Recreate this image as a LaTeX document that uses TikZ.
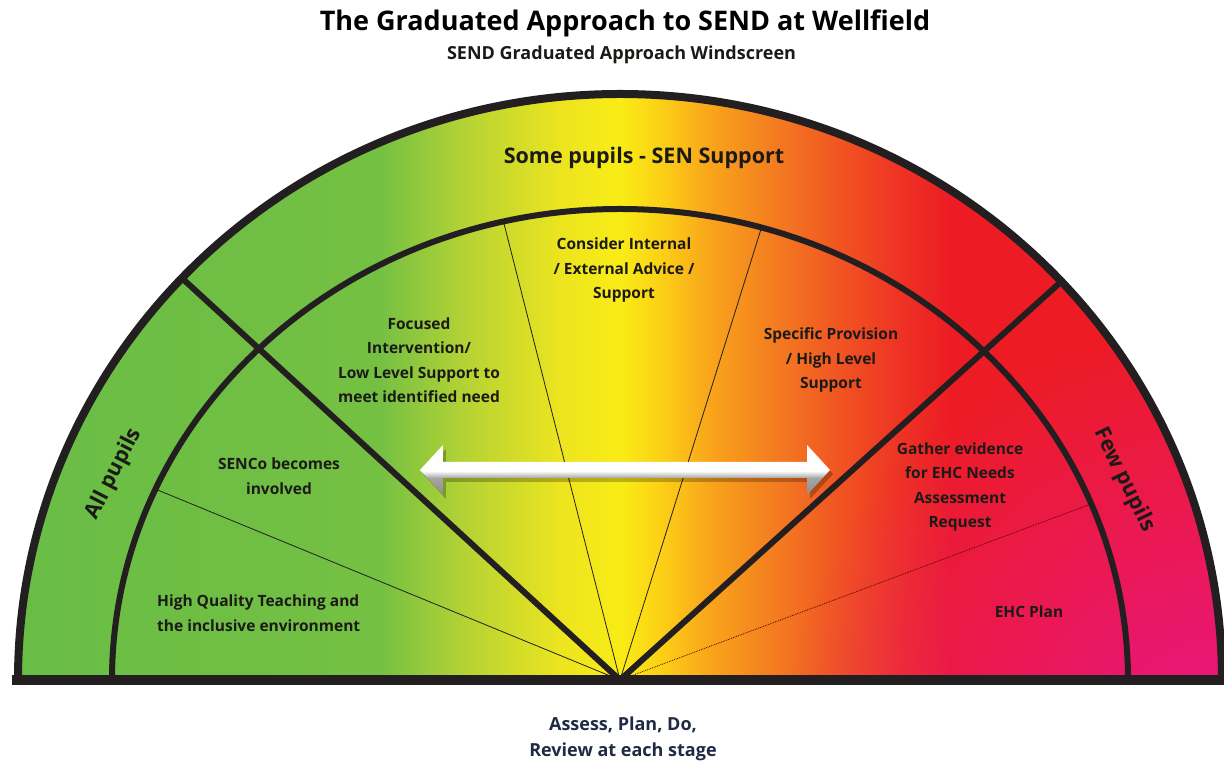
\documentclass[tikz,border=0pt]{standalone}
\usepackage{fontspec}
\setmainfont{Open Sans}
\usetikzlibrary{positioning,fadings}

\definecolor{rim}{HTML}{231F20}
\definecolor{labeltext}{HTML}{1C1A17}
\definecolor{navy}{HTML}{1F2A44}
\definecolor{wgreen}{HTML}{69BD45}
\definecolor{wgreentwo}{HTML}{74C043}
\definecolor{wlime}{HTML}{B8D433}
\definecolor{wyellowtwo}{HTML}{ECE41F}
\definecolor{wyellow}{HTML}{F9EC16}
\definecolor{wgold}{HTML}{FCD016}
\definecolor{worange}{HTML}{F9A51B}
\definecolor{worangetwo}{HTML}{F47F20}
\definecolor{wredtwo}{HTML}{F15A22}
\definecolor{wredthree}{HTML}{EE3324}
\definecolor{wred}{HTML}{ED1C24}
\definecolor{wpink}{HTML}{E8168A}

\pgfdeclarehorizontalshading{windscreen}{100bp}{color(0bp)=(wgreen); color(25bp)=(wgreen);
  color(40bp)=(wgreentwo); color(43.8bp)=(wlime); color(47.5bp)=(wyellowtwo); color(50bp)=(wyellow);
  color(51.7bp)=(wgold); color(53.7bp)=(worange); color(56.2bp)=(worangetwo); color(58.7bp)=(wredtwo);
  color(61.6bp)=(wredthree); color(63.7bp)=(wred); color(75bp)=(wred); color(100bp)=(wred)}
\pgfdeclareverticalshading{arrowshade}{100bp}{color(0bp)=(black!45); color(25bp)=(black!45);
  color(42bp)=(black!35); color(49bp)=(white); color(75bp)=(white); color(100bp)=(white)}
\tikzfading[name=pink glow, inner color=transparent!0, outer color=transparent!100]

\tikzset{rim line/.style={draw=rim, line width=8pt},
  ring line/.style={draw=rim, line width=6pt},
  split line/.style={draw=rim, line width=6pt},
  thin split/.style={draw=rim, line width=0.8pt},
  zone label/.style={font=\fontsize{15.5}{24.5}\selectfont\bfseries, text=labeltext, align=center, inner sep=0pt},
  band label/.style={font=\fontsize{21.5}{24}\selectfont\bfseries, text=labeltext, inner sep=0pt},}

\begin{document}
\begin{tikzpicture}[x=1pt, y=1pt]
        \useasboundingbox (-620,-82) rectangle (604,680);
        % Coordinates
        \coordinate (apex) at (0,0);
        \coordinate (left split) at (-460,422);
        \coordinate (right split) at (464,419);
        \coordinate (low left) at (-477,196);
        \coordinate (low right) at (487,182);
        \coordinate (mid left) at (-121,476);
        \coordinate (mid right) at (147,470);
        % Fill
        \shade[shading=windscreen] (-602,0) arc[start angle=180, end angle=0, x radius=602, y radius=586] -- cycle;
        \begin{scope}
            \clip (-602,0) arc[start angle=180, end angle=0, x radius=602, y radius=586] -- cycle;
            \fill[wpink, path fading=pink glow] (604,-80) circle[radius=440];
            \draw[split line] (apex) -- (left split);
            \draw[split line] (apex) -- (right split);
        \end{scope}
        \begin{scope}
            \clip (-508,0) arc[start angle=180, end angle=0, x radius=508, y radius=471] -- cycle;
            \draw[thin split] (apex) -- (low left);
            \draw[thin split, draw=black!70!red, densely dotted] (apex) -- (low right);
            \draw[thin split] (apex) -- (mid left);
            \draw[thin split] (apex) -- (mid right);
        \end{scope}
        % Paths
        \draw[ring line] (-508,0) arc[start angle=180, end angle=0, x radius=508, y radius=471];
        \draw[rim line] (-602,0) arc[start angle=180, end angle=0, x radius=602, y radius=586];
        \draw[rim, line width=10pt] (-608,0) -- (604,0);
        % Arrow
        \fill[black, opacity=0.25] (-197,206) -- (-174,231) -- (-174,214) -- (190,214) -- (190,231) -- (213,206)
            -- (190,181) -- (190,198) -- (-174,198) -- (-174,181) -- cycle;
        \shade[shading=arrowshade] (-200,210) -- (-177,235) -- (-177,218) -- (187,218) -- (187,235) -- (210,210)
            -- (187,185) -- (187,202) -- (-177,202) -- (-177,185) -- cycle;
        % Nodes
        \node[font=\fontsize{27}{32}\selectfont\bfseries, anchor=base] (title) at (5,649) {The Graduated Approach to SEND at Wellfield};
        \node[font=\fontsize{18}{22}\selectfont\bfseries, text=labeltext, anchor=base] (subtitle) at (1.5,620) {SEND Graduated Approach Windscreen};
        \node[band label] (some) at (24,522) {Some pupils - SEN Support};
        \node[band label, rotate=63] (all) at (-506,206) {All pupils};
        \node[band label, rotate=-64] (few) at (504,200) {Few pupils};
        \node[zone label] (consider) at (4,410) {Consider Internal\\/ External Advice /\\Support};
        \node[zone label] (focused) at (-201,320) {Focused\\Intervention/\\Low Level Support to\\meet identified need};
        \node[zone label] (senco) at (-341,204) {SENCo becomes\\involved};
        \node[zone label, align=left, anchor=west] (teaching) at (-463,67) {High Quality Teaching and\\the inclusive environment};
        \node[zone label] (specific) at (211,320) {Specific Provision\\/ High Level\\Support};
        \node[zone label] (gather) at (340,193) {Gather evidence\\for EHC Needs\\Assessment\\Request};
        \node[zone label] (plan) at (409,68) {EHC Plan};
        \node[font=\fontsize{18}{26}\selectfont\bfseries, text=navy, align=center] (review) at (3,-59) {Assess, Plan, Do,\\Review at each stage};
\end{tikzpicture}
\end{document}
